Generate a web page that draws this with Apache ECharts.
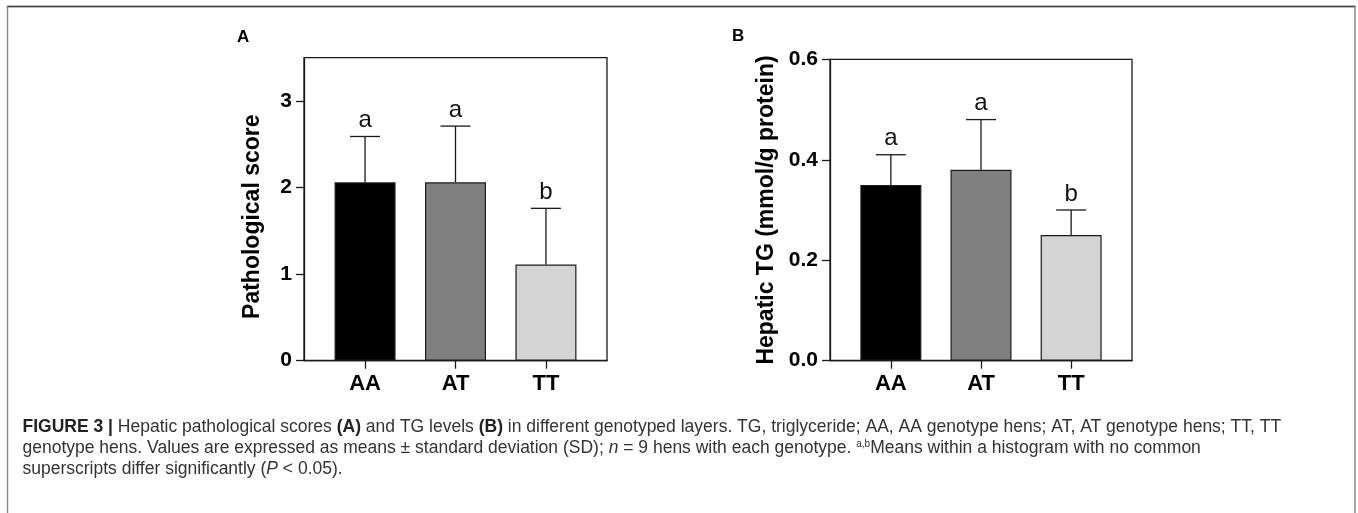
<!DOCTYPE html>
<html>
<head>
<meta charset="utf-8">
<script src="https://cdn.jsdelivr.net/npm/echarts@6/dist/echarts.min.js"></script>
<style>
html, body { margin: 0; padding: 0; background: #fff; }
#main { width: 1358px; height: 513px; }
</style>
</head>
<body>
<div id="main"></div>
<script>
// genotypes
var genotypes = ['AA', 'AT', 'TT'];
var barColors = ['#000000', '#808080', '#d4d4d4'];
var letters = ['a', 'a', 'b'];

// panel A: pathological score, mean and SD
var scoreMean = [2.06, 2.06, 1.11];
var scoreSD = [0.53, 0.65, 0.65];
var scoreTicks = [0, 1, 2, 3];

// panel B: hepatic TG (mmol/g protein), mean and SD
var tgMean = [0.35, 0.38, 0.25];
var tgSD = [0.06, 0.10, 0.05];

var font = 'Liberation Sans';
var axisColor = '#1a1a1a';

function barData(means) {
    return means.map(function (m, i) {
        return { value: [i, m], itemStyle: { color: barColors[i] } };
    });
}
function errData(means, sds) {
    return means.map(function (m, i) { return [i, m, sds[i]]; });
}
function errRender(params, api) {
    var x = api.value(0), m = api.value(1), s = api.value(2);
    var p0 = api.coord([x, m]);
    var p1 = api.coord([x, m + s]);
    var st = { stroke: axisColor, lineWidth: 1.3 };
    return {
        type: 'group',
        children: [
            { type: 'line', shape: { x1: p0[0], y1: p0[1], x2: p1[0], y2: p1[1] }, style: st },
            { type: 'line', shape: { x1: p1[0] - 15, y1: p1[1], x2: p1[0] + 15, y2: p1[1] }, style: st },
            { type: 'text', x: p1[0], y: p1[1] - 4, style: {
                text: letters[params.dataIndex], textAlign: 'center', textVerticalAlign: 'bottom',
                font: '24px "' + font + '"', fill: '#111' } }
        ]
    };
}

function xAxisOpt(idx) {
    return {
        type: 'value', gridIndex: idx, min: -0.675, max: 2.675,
        axisLine: { show: true, onZero: false, lineStyle: { color: axisColor, width: 1.3 } },
        axisTick: { show: true, length: 8, customValues: [0, 1, 2], lineStyle: { color: axisColor, width: 1.3 } },
        axisLabel: { customValues: [0, 1, 2], margin: 12, fontFamily: font, fontSize: 22, fontWeight: 'bold', color: '#000',
            formatter: function (v) { return genotypes[Math.round(v)]; } },
        splitLine: { show: false }
    };
}

var nameStyle = { fontFamily: font, fontSize: 23, fontWeight: 'bold', color: '#000' };
var tickLabel = { margin: 12, fontFamily: font, fontSize: 21, fontWeight: 'bold', color: '#000' };

var chart = echarts.init(document.getElementById('main'));
chart.setOption({
    backgroundColor: '#fff',
    animation: false,
    grid: [
        { left: 304, top: 57.7, width: 303, height: 303, show: true, borderColor: axisColor, borderWidth: 1.3 },
        { left: 830, top: 59.3, width: 302, height: 301.4, show: true, borderColor: axisColor, borderWidth: 1.3 }
    ],
    xAxis: [xAxisOpt(0), xAxisOpt(1)],
    yAxis: [
        {
            type: 'value', gridIndex: 0, min: 0, max: 3.5,
            name: 'Pathological score', nameLocation: 'middle', nameGap: 40,
            nameTextStyle: Object.assign({ padding: [0, 15, 0, 0] }, nameStyle),
            axisLine: { show: true, onZero: false, lineStyle: { color: axisColor, width: 1.3 } },
            axisTick: { show: true, length: 8, customValues: scoreTicks, lineStyle: { color: axisColor, width: 1.3 } },
            axisLabel: Object.assign({ customValues: scoreTicks }, tickLabel),
            splitLine: { show: false }
        },
        {
            type: 'value', gridIndex: 1, min: 0, max: 0.6, interval: 0.2,
            name: 'Hepatic TG (mmol/g protein)', nameLocation: 'middle', nameGap: 52,
            nameTextStyle: nameStyle,
            axisLine: { show: true, onZero: false, lineStyle: { color: axisColor, width: 1.3 } },
            axisTick: { show: true, length: 8, lineStyle: { color: axisColor, width: 1.3 } },
            axisLabel: Object.assign({ formatter: function (v) { return v.toFixed(1); } }, tickLabel),
            splitLine: { show: false }
        }
    ],
    series: [
        { type: 'bar', xAxisIndex: 0, yAxisIndex: 0, barWidth: 61, data: barData(scoreMean),
          itemStyle: { borderColor: axisColor, borderWidth: 1.2 } },
        { type: 'custom', xAxisIndex: 0, yAxisIndex: 0, data: errData(scoreMean, scoreSD), renderItem: errRender, z: 3 },
        { type: 'bar', xAxisIndex: 1, yAxisIndex: 1, barWidth: 61, data: barData(tgMean),
          itemStyle: { borderColor: axisColor, borderWidth: 1.2 } },
        { type: 'custom', xAxisIndex: 1, yAxisIndex: 1, data: errData(tgMean, tgSD), renderItem: errRender, z: 3 }
    ],
    graphic: [
        { type: 'rect', shape: { x: 7.5, y: 6.5, width: 1347.5, height: 600 }, style: { fill: 'none', stroke: '#8a8a8a', lineWidth: 1.5 }, silent: true },
        { type: 'line', shape: { x1: 7.5, y1: 6.5, x2: 1355, y2: 6.5 }, style: { stroke: '#444', lineWidth: 1.5 }, silent: true },
        { type: 'text', left: 237, top: 29, style: { text: 'A', font: 'bold 17px "' + font + '"', fill: '#000' } },
        { type: 'text', left: 732, top: 28, style: { text: 'B', font: 'bold 17px "' + font + '"', fill: '#000' } },
        { type: 'text', left: 22.5, top: 418, style: {
            text: '{b|FIGURE 3 |} Hepatic pathological scores {b|(A)} and TG levels {b|(B)} in different genotyped layers. TG, triglyceride; AA, AA genotype hens; AT, AT genotype hens; TT, TT',
            font: '17.5px "' + font + '"', fill: '#333',
            rich: { b: { fontWeight: 'bold', fontSize: 17.5, fontFamily: font, fill: '#222' } } } },
        { type: 'text', left: 22.5, top: 439, style: {
            text: 'genotype hens. Values are expressed as means \u00b1 standard deviation (SD); {i|n} = 9 hens with each genotype. {s|a,b}Means within a histogram with no common',
            font: '17.5px "' + font + '"', fill: '#333',
            rich: { i: { fontStyle: 'italic', fontSize: 17.5, fontFamily: font, fill: '#333' },
                    s: { fontSize: 10, fontFamily: font, fill: '#333', verticalAlign: 'top' } } } },
        { type: 'text', left: 22.5, top: 460, style: {
            text: 'superscripts differ significantly ({i|P} < 0.05).',
            font: '17.5px "' + font + '"', fill: '#333',
            rich: { i: { fontStyle: 'italic', fontSize: 17.5, fontFamily: font, fill: '#333' } } } }
    ]
});
</script>
</body>
</html>
